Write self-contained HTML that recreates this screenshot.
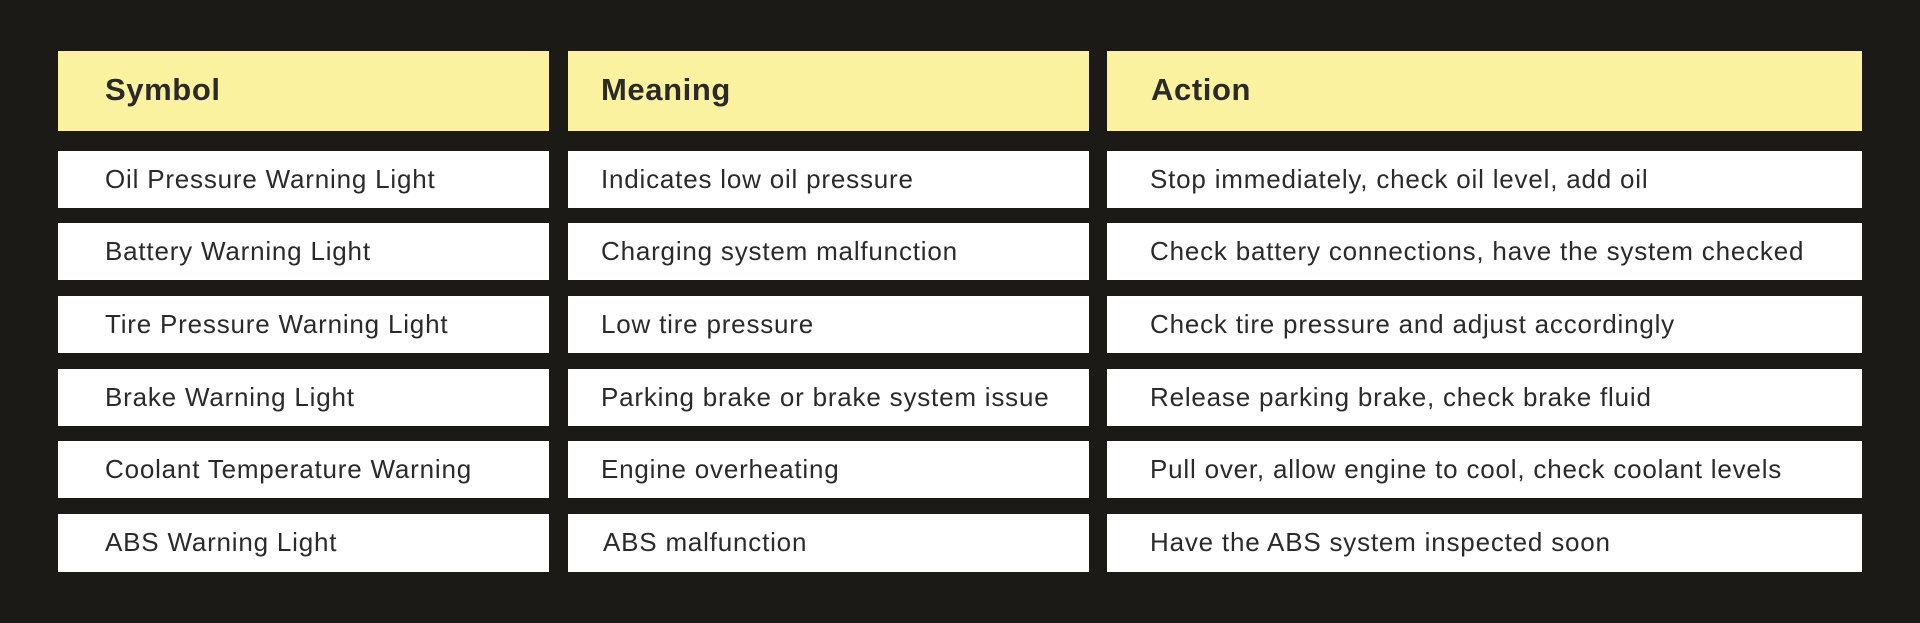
<!DOCTYPE html>
<html><head><style>
body{margin:0;width:1920px;height:623px;background:#1c1a17;position:relative;overflow:hidden;font-family:"Liberation Sans",sans-serif;color:#2a2a2a}
.c{position:absolute;display:flex;align-items:center;box-sizing:border-box;white-space:nowrap}
.h{background:#faf29f;font-weight:bold;font-size:31px;letter-spacing:0.6px;padding-bottom:2px}
.r{background:#fff;font-size:26px;letter-spacing:0.8px;padding-bottom:1px}
</style></head><body>
<div class="c h" style="left:58px;top:51px;width:491px;height:80px;padding-left:47px">Symbol</div>
<div class="c h" style="left:568px;top:51px;width:521px;height:80px;padding-left:33px">Meaning</div>
<div class="c h" style="left:1107px;top:51px;width:755px;height:80px;padding-left:44px">Action</div>

<div class="c r" style="left:58px;top:151px;width:491px;height:57px;padding-left:47px">Oil Pressure Warning Light</div>
<div class="c r" style="left:568px;top:151px;width:521px;height:57px;padding-left:33px">Indicates low oil pressure</div>
<div class="c r" style="left:1107px;top:151px;width:755px;height:57px;padding-left:43px">Stop immediately, check oil level, add oil</div>

<div class="c r" style="left:58px;top:223px;width:491px;height:57px;padding-left:47px">Battery Warning Light</div>
<div class="c r" style="left:568px;top:223px;width:521px;height:57px;padding-left:33px">Charging system malfunction</div>
<div class="c r" style="left:1107px;top:223px;width:755px;height:57px;padding-left:43px">Check battery connections, have the system checked</div>

<div class="c r" style="left:58px;top:296px;width:491px;height:57px;padding-left:47px">Tire Pressure Warning Light</div>
<div class="c r" style="left:568px;top:296px;width:521px;height:57px;padding-left:33px">Low tire pressure</div>
<div class="c r" style="left:1107px;top:296px;width:755px;height:57px;padding-left:43px">Check tire pressure and adjust accordingly</div>

<div class="c r" style="left:58px;top:369px;width:491px;height:57px;padding-left:47px">Brake Warning Light</div>
<div class="c r" style="left:568px;top:369px;width:521px;height:57px;padding-left:33px">Parking brake or brake system issue</div>
<div class="c r" style="left:1107px;top:369px;width:755px;height:57px;padding-left:43px">Release parking brake, check brake fluid</div>

<div class="c r" style="left:58px;top:441px;width:491px;height:57px;padding-left:47px">Coolant Temperature Warning</div>
<div class="c r" style="left:568px;top:441px;width:521px;height:57px;padding-left:33px">Engine overheating</div>
<div class="c r" style="left:1107px;top:441px;width:755px;height:57px;padding-left:43px">Pull over, allow engine to cool, check coolant levels</div>

<div class="c r" style="left:58px;top:514px;width:491px;height:58px;padding-left:47px">ABS Warning Light</div>
<div class="c r" style="left:568px;top:514px;width:521px;height:58px;padding-left:35px">ABS malfunction</div>
<div class="c r" style="left:1107px;top:514px;width:755px;height:58px;padding-left:43px">Have the ABS system inspected soon</div>
</body></html>
